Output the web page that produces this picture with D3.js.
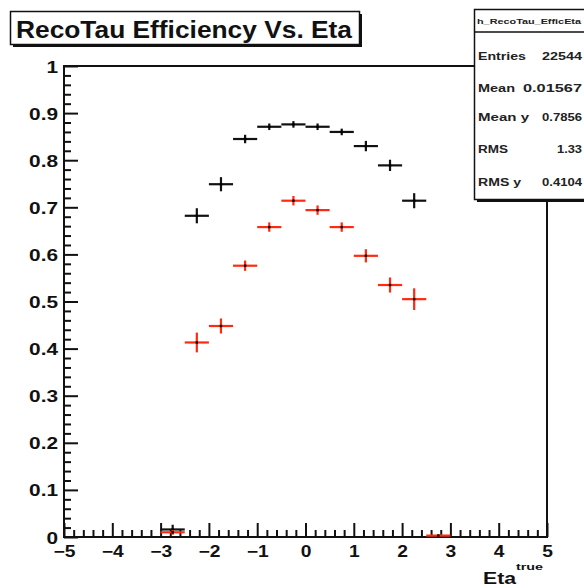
<!DOCTYPE html>
<html>
<head>
<meta charset="utf-8">
<script src="https://cdn.jsdelivr.net/npm/d3@7"></script>
<style>
  html, body { margin: 0; padding: 0; background: #fff; overflow: hidden; }
  svg { display: block; font-family: "Liberation Sans", Arial, Helvetica, sans-serif; }
</style>
</head>
<body>
<svg id="chart" width="584" height="588"></svg>
<script>
// Bin centres in eta (bins are 0.5 wide)
const etaBins = [-2.75, -2.25, -1.75, -1.25, -0.75, -0.25, 0.25, 0.75, 1.25, 1.75, 2.25, 2.75];
const binHalfWidth = 0.25;

// Efficiency series (black) and its errors
const effBlack = [0.016, 0.682, 0.749, 0.845, 0.871, 0.876, 0.871, 0.860, 0.830, 0.789, 0.714, null];
const errBlack = [0.010, 0.016, 0.015, 0.009, 0.007, 0.007, 0.007, 0.007, 0.011, 0.012, 0.016, null];

// Efficiency series (red) and its errors
const effRed = [0.010, 0.413, 0.448, 0.576, 0.658, 0.714, 0.694, 0.658, 0.597, 0.535, 0.505, 0.003];
const errRed = [0.005, 0.021, 0.016, 0.011, 0.010, 0.010, 0.010, 0.010, 0.014, 0.016, 0.023, 0.003];

// Axis ticks
const xMajor = [-5, -4, -3, -2, -1, 0, 1, 2, 3, 4, 5];
const yMajor = [0, 0.1, 0.2, 0.3, 0.4, 0.5, 0.6, 0.7, 0.8, 0.9, 1];
const yLabels = ["0", "0.1", "0.2", "0.3", "0.4", "0.5", "0.6", "0.7", "0.8", "0.9", "1"];

// Statistics box
const statNames = ["Entries", "Mean", "Mean y", "RMS", "RMS y"];
const statValues = ["22544", "0.01567", "0.7856", "1.33", "0.4104"];

const titleText = "RecoTau Efficiency Vs. Eta";
const histName = "h_RecoTau_EfficEta";

const svg = d3.select("#chart");
const L = 64, R = 547, T = 66, B = 537;
const x = d3.scaleLinear().domain([-5, 5]).range([L, R]);
const y = d3.scaleLinear().domain([0, 1]).range([B, T]);

const xMinor = d3.range(-50, 51, 2).map(v => v / 10).filter(v => !xMajor.includes(v));
const yMinor = d3.range(0, 101, 2).map(v => v / 100).filter(v => !yMajor.some(m => Math.abs(m - v) < 1e-9));

// Frame
svg.append("rect")
  .attr("x", L).attr("y", T).attr("width", R - L).attr("height", B - T)
  .attr("fill", "none").attr("stroke", "#111").attr("stroke-width", 2);

// Axes with ticks pointing into the frame
function styleAxis(g) {
  g.select(".domain").remove();
  g.selectAll(".tick line").attr("stroke", "#111").attr("stroke-width", 2);
  g.selectAll(".tick text").attr("fill", "#111").attr("font-weight", "bold")
    .attr("font-size", 16).attr("font-family", "Liberation Sans, Arial, sans-serif");
}
// widen the bold labels a little
function widen(sel, k) {
  sel.each(function () {
    const w = this.getComputedTextLength();
    d3.select(this).attr("textLength", w * k).attr("lengthAdjust", "spacingAndGlyphs");
  });
}

svg.append("g").attr("transform", `translate(0,${B})`)
  .call(d3.axisBottom(x).tickValues(xMinor).tickSize(-7).tickFormat(""))
  .call(styleAxis);
svg.append("g").attr("transform", `translate(0,${B})`)
  .call(d3.axisBottom(x).tickValues(xMajor).tickSize(-14).tickPadding(20).tickFormat(d3.format("d")))
  .call(styleAxis)
  .call(g => g.selectAll(".tick text").attr("dy", "0").call(widen, 1.2));

svg.append("g").attr("transform", `translate(${L},0)`)
  .call(d3.axisLeft(y).tickValues(yMinor).tickSize(-7).tickFormat(""))
  .call(styleAxis);
svg.append("g").attr("transform", `translate(${L},0)`)
  .call(d3.axisLeft(y).tickValues(yMajor).tickSize(-14).tickPadding(6)
    .tickFormat((d, i) => yLabels[i]))
  .call(styleAxis)
  .call(g => g.selectAll(".tick text").attr("dy", "0.38em").call(widen, 1.3));

// Error-bar crosses for one series
function drawSeries(values, errors, color) {
  const pts = etaBins.map((c, i) => ({ c, v: values[i], e: errors[i] })).filter(d => d.v !== null);
  const g = svg.append("g");
  g.selectAll("line.h").data(pts).join("line")
    .attr("x1", d => x(d.c - binHalfWidth)).attr("x2", d => x(d.c + binHalfWidth))
    .attr("y1", d => y(d.v)).attr("y2", d => y(d.v))
    .attr("stroke", color).attr("stroke-width", 2.2);
  g.selectAll("line.v").data(pts).join("line")
    .attr("x1", d => x(d.c)).attr("x2", d => x(d.c))
    .attr("y1", d => y(Math.max(0, d.v - d.e))).attr("y2", d => y(d.v + d.e))
    .attr("stroke", color).attr("stroke-width", 2.2);
  g.selectAll("rect").data(pts).join("rect")
    .attr("x", d => x(d.c) - 1.2).attr("y", d => y(d.v) - 1.2)
    .attr("width", 2.4).attr("height", 2.4).attr("fill", "#000");
}
drawSeries(effBlack, errBlack, "#111");
drawSeries(effRed, errRed, "#ff2a10");

// Axis title with superscript
svg.append("text").attr("x", 483).attr("y", 584)
  .attr("font-size", 17).attr("font-weight", "bold").attr("fill", "#111")
  .attr("textLength", 33).attr("lengthAdjust", "spacingAndGlyphs").text("Eta");
svg.append("text").attr("x", 516).attr("y", 570)
  .attr("font-size", 9).attr("font-weight", "bold").attr("fill", "#111")
  .attr("textLength", 27).attr("lengthAdjust", "spacingAndGlyphs").text("true");

// Title box
svg.append("rect").attr("x", 13).attr("y", 14).attr("width", 349).attr("height", 33)
  .attr("fill", "#111");
svg.append("rect").attr("x", 10.5).attr("y", 11.5).attr("width", 349).attr("height", 33)
  .attr("fill", "#fff").attr("stroke", "#111").attr("stroke-width", 1.5);
svg.append("text").attr("x", 16).attr("y", 38)
  .attr("font-size", 23).attr("font-weight", "bold").attr("fill", "#111")
  .attr("textLength", 336).attr("lengthAdjust", "spacingAndGlyphs")
  .text(titleText);

// Statistics box
svg.append("rect").attr("x", 477).attr("y", 12).attr("width", 130).attr("height", 190)
  .attr("fill", "#111");
svg.append("rect").attr("x", 474.5).attr("y", 9.5).attr("width", 130).attr("height", 190)
  .attr("fill", "#fff").attr("stroke", "#111").attr("stroke-width", 1.5);
svg.append("line").attr("x1", 474.5).attr("x2", 604).attr("y1", 32).attr("y2", 32)
  .attr("stroke", "#111").attr("stroke-width", 1.5);
svg.append("text").attr("x", 477).attr("y", 24)
  .attr("font-size", 8).attr("font-weight", "bold").attr("fill", "#222")
  .attr("textLength", 104).attr("lengthAdjust", "spacingAndGlyphs")
  .text(histName);

const statRowY = [60, 92, 121, 153, 186];
const statNameW = [48, 37, 51, 30, 43];
const statValX = [542, 523, 542, 557, 542];
const statValW = [40, 59, 40, 25, 40];
statNames.forEach((n, i) => {
  svg.append("text").attr("x", 478).attr("y", statRowY[i])
    .attr("font-size", 10).attr("font-weight", "bold").attr("fill", "#222")
    .attr("textLength", statNameW[i]).attr("lengthAdjust", "spacingAndGlyphs")
    .text(n);
  svg.append("text").attr("x", statValX[i]).attr("y", statRowY[i])
    .attr("font-size", 10).attr("font-weight", "bold").attr("fill", "#222")
    .attr("textLength", statValW[i]).attr("lengthAdjust", "spacingAndGlyphs")
    .text(statValues[i]);
});
</script>
</body>
</html>
